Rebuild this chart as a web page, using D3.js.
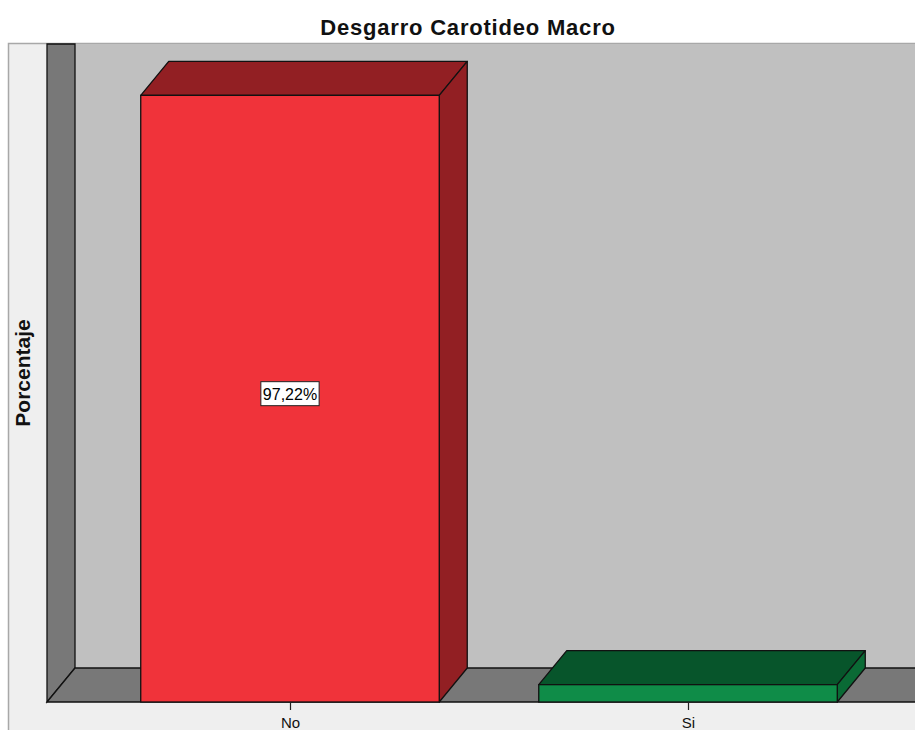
<!DOCTYPE html>
<html>
<head>
<meta charset="utf-8">
<script src="https://cdn.jsdelivr.net/npm/d3@7/dist/d3.min.js"></script>
<style>
  html, body { margin: 0; padding: 0; background: #ffffff; }
  svg { display: block; font-family: "Liberation Sans", Arial, sans-serif; }
</style>
</head>
<body>
<svg id="chart" width="915" height="730"></svg>
<script>
// Data
const categories = ["No", "Si"];
const percentages = [97.22, 2.78];
const valueLabels = ["97,22%", null];
const chartTitle = "Desgarro Carotideo Macro";
const yTitle = "Porcentaje";

// Bar colours: front face, top face, side face
const frontColors = ["#f0333a", "#0f8c48"];
const topColors = ["#921f23", "#07552b"];
const sideColors = ["#921f23", "#0a6a35"];

const svg = d3.select("#chart");
const W = 915, H = 730;

// 3D depth offset
const DX = 28, DY = -34;

// Plot frame (front plane)
const left = 47, floorY = 702, topY = 78;
const x = d3.scaleBand()
  .domain(categories)
  .range([left, 931])
  .paddingInner(0.25)
  .paddingOuter(0.2355);
const y = d3.scaleLinear().domain([0, 100]).range([floorY, topY]);

// Outer frame with light panel
svg.append("rect").attr("x", 8.5).attr("y", 43.5).attr("width", W).attr("height", H)
  .attr("fill", "#efefef").attr("stroke", "#a8a8a8").attr("stroke-width", 1.5);

// Back wall
svg.append("rect")
  .attr("x", left + DX).attr("y", y(100) + DY)
  .attr("width", W).attr("height", floorY + DY - (y(100) + DY))
  .attr("fill", "#c0c0c0");

// Left side wall
svg.append("path")
  .attr("d", `M${left},${floorY} L${left},${y(100) + DY} L${left + DX},${y(100) + DY} L${left + DX},${floorY + DY} Z`)
  .attr("fill", "#787878").attr("stroke", "#111").attr("stroke-width", 1.3);

// Floor
svg.append("path")
  .attr("d", `M${left},${floorY} L${left + DX},${floorY + DY} L${W + 20},${floorY + DY} L${W + 20},${floorY} Z`)
  .attr("fill", "#787878").attr("stroke", "#111").attr("stroke-width", 1.3);

// Bars
const bars = svg.append("g").selectAll("g.bar")
  .data(categories.map((c, i) => ({ c, v: percentages[i], i })))
  .join("g").attr("class", "bar");

bars.each(function (d) {
  const g = d3.select(this);
  const x0 = x(d.c), x1 = x(d.c) + x.bandwidth();
  const yt = y(d.v), yb = y(0);
  // top face
  g.append("path")
    .attr("d", `M${x0},${yt} L${x0 + DX},${yt + DY} L${x1 + DX},${yt + DY} L${x1},${yt} Z`)
    .attr("fill", topColors[d.i]).attr("stroke", "#111").attr("stroke-width", 1.3)
    .attr("stroke-linejoin", "round");
  // side face
  g.append("path")
    .attr("d", `M${x1},${yt} L${x1 + DX},${yt + DY} L${x1 + DX},${yb + DY} L${x1},${yb} Z`)
    .attr("fill", sideColors[d.i]).attr("stroke", "#111").attr("stroke-width", 1.3)
    .attr("stroke-linejoin", "round");
  // front face
  g.append("rect")
    .attr("x", x0).attr("y", yt).attr("width", x1 - x0).attr("height", yb - yt)
    .attr("fill", frontColors[d.i]).attr("stroke", "#111").attr("stroke-width", 1.3);
});

// Value labels
categories.forEach((c, i) => {
  if (!valueLabels[i]) return;
  const cx = x(c) + x.bandwidth() / 2;
  const cy = y(percentages[i] / 2) - 5;
  const t = svg.append("text")
    .attr("x", cx).attr("y", cy + 6)
    .attr("text-anchor", "middle")
    .attr("font-size", 16).attr("fill", "#000")
    .text(valueLabels[i]);
  const bb = t.node().getBBox();
  svg.insert("rect", function () { return t.node(); })
    .attr("x", bb.x - 2).attr("y", cy - 12).attr("width", bb.width + 4).attr("height", 24)
    .attr("fill", "#fff").attr("stroke", "#222").attr("stroke-width", 1);
});

// X axis ticks and labels
const xAxis = svg.append("g");
categories.forEach(c => {
  const cx = Math.round(x(c) + x.bandwidth() / 2) + 0.5;
  xAxis.append("line").attr("x1", cx).attr("x2", cx).attr("y1", floorY).attr("y2", floorY + 8)
    .attr("stroke", "#222").attr("stroke-width", 1.2);
  xAxis.append("text").attr("x", cx).attr("y", floorY + 26)
    .attr("text-anchor", "middle").attr("font-size", 15).attr("fill", "#111").text(c);
});

// Y axis title
svg.append("text")
  .attr("transform", `translate(30,373) rotate(-90)`)
  .attr("text-anchor", "middle")
  .attr("font-size", 21).attr("font-weight", "bold").attr("fill", "#111")
  .text(yTitle);

// Chart title
svg.append("text")
  .attr("x", 468).attr("y", 35)
  .attr("text-anchor", "middle")
  .attr("font-size", 22).attr("font-weight", "bold").attr("fill", "#111")
  .attr("letter-spacing", 0.8)
  .text(chartTitle);
</script>
</body>
</html>
